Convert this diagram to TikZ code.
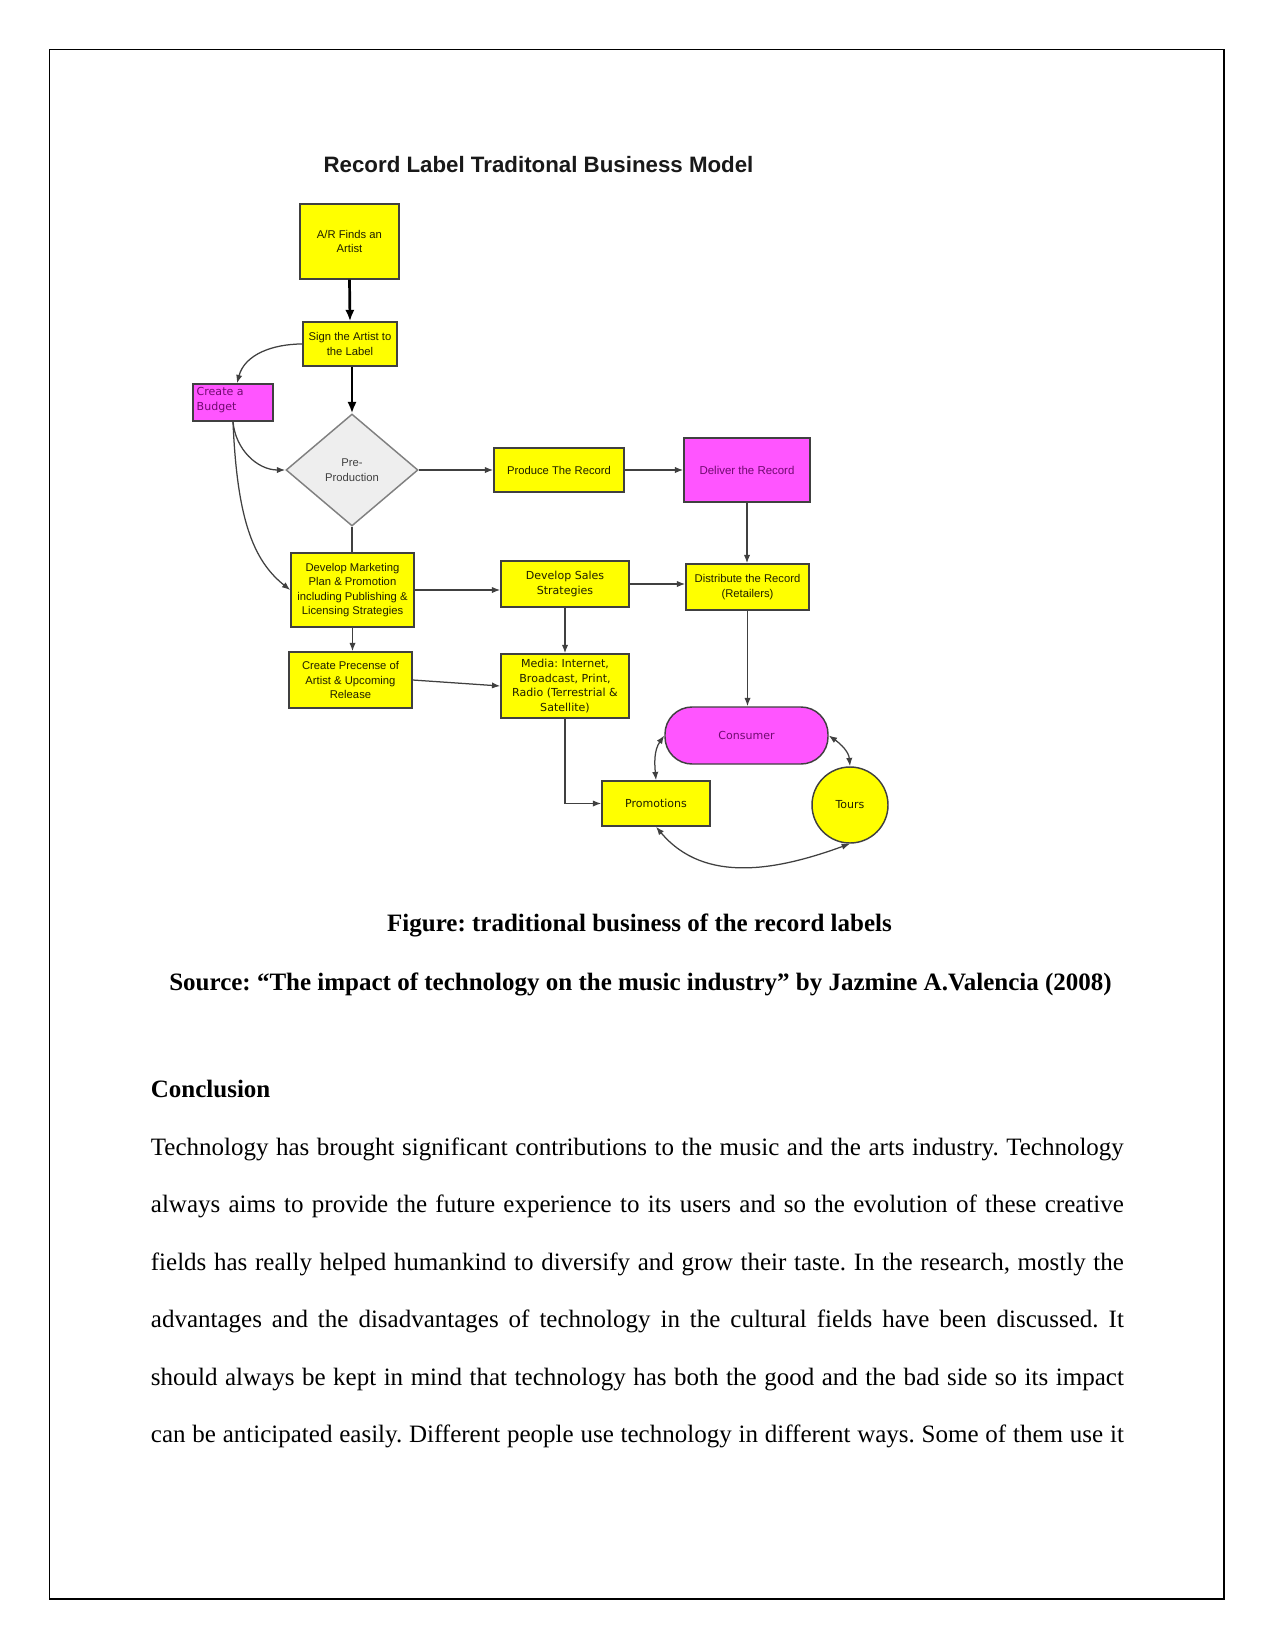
\documentclass[tikz,border=0pt]{standalone}
\usepackage{fontspec}
\setmainfont{Liberation Serif}
\newfontfamily\lsans{Liberation Sans}
\newfontfamily\dsans{DejaVu Sans}
\usetikzlibrary{shapes.geometric,arrows.meta,calc}
\definecolor{ybox}{HTML}{FFFF00}
\definecolor{mbox}{HTML}{FF55FF}
\definecolor{ytext}{HTML}{202000}
\definecolor{mtext}{HTML}{700A70}
\definecolor{edgec}{HTML}{404040}
\definecolor{diafill}{HTML}{EEEEEE}
\frenchspacing
\begin{document}
\frenchspacing
\begin{tikzpicture}[x=0.48pt,y=-0.48pt,
  sz/.style 2 args={minimum width={#1*0.48pt}, minimum height={#2*0.48pt}},
  base/.style={draw=edgec, line width=0.7pt, inner sep=0pt, align=center},
  ybx/.style={base, fill=ybox, text=ytext, font=\lsans\fontsize{5.4}{7}\selectfont},
  ywx/.style={base, fill=ybox, text=ytext, font=\dsans\fontsize{5.3}{7}\selectfont},
  mbx/.style={base, fill=mbox, text=mtext, font=\lsans\fontsize{5.5}{7}\selectfont},
  mwx/.style={base, fill=mbox, text=mtext, font=\dsans\fontsize{5.3}{7}\selectfont},
  conn/.style={draw=edgec, line width=0.6pt, -{Latex[length=4pt,width=3pt]}},
  dconn/.style={draw=edgec, line width=0.6pt, {Latex[length=4pt,width=3pt]}-{Latex[length=4pt,width=3pt]}},
  tconn/.style={draw=black, line width=1.3pt, -{Latex[length=5.5pt,width=4.5pt]}},
  capt/.style={anchor=base, inner sep=0pt, font=\fontsize{12}{14}\selectfont\bfseries},
  bodyt/.style={anchor=base west, inner sep=0pt, font=\fontsize{12}{14}\selectfont}
]
\useasboundingbox (0,0) rectangle (1275,1651);
\fill[white] (0,0) rectangle (1275,1651);
% page frame
\draw[line width=0.75pt] (49.5,49.5) rectangle (1224,1599);

% title
\node[anchor=base, inner sep=0pt, text=black!90, font=\lsans\bfseries\fontsize{10.7}{12}\selectfont] (title) at (538.5,173) {Record Label Traditonal Business Model};

% nodes
\node[ybx, sz={99}{75}] (ar) at (349.5,241.5) {A/R Finds an\\Artist};
\node[ybx, sz={94}{44}] (sign) at (350,344) {Sign the Artist to\\the Label};
\node[base, fill=mbox, sz={80}{37}] (budget) at (233,402.5) {};
\node[anchor=north west, inner sep=0pt, align=left, text=mtext, font=\dsans\fontsize{5.3}{7}\selectfont] (budgettext) at ($(budget.north west)+(4,4)$) {Create a\\Budget};
\node[base, diamond, draw=gray, fill=diafill, text=black!75, sz={132}{112}, font=\lsans\fontsize{5.4}{7}\selectfont] (pre) at (352,470) {Pre-\\Production};
\node[ybx, sz={130}{44}] (produce) at (559,470) {Produce The Record};
\node[mbx, sz={126}{64}] (deliver) at (747,470) {Deliver the Record};
\node[ybx, sz={123}{74}] (market) at (352.5,590) {Develop Marketing\\Plan \& Promotion\\including Publishing \&\\Licensing Strategies};
\node[ywx, sz={128}{46}] (sales) at (565,584) {Develop Sales\\Strategies};
\node[ybx, sz={123}{46}] (distrib) at (747.5,587) {Distribute the Record\\(Retailers)};
\node[ybx, sz={123}{56}] (presence) at (350.5,680) {Create Precense of\\Artist \& Upcoming\\Release};
\node[ywx, sz={128}{64}] (media) at (565,686) {Media: Internet,\\Broadcast, Print,\\Radio (Terrestrial \&\\Satellite)};
\node[mwx, sz={163}{57}, rounded corners=13pt] (consumer) at (746.5,735.5) {Consumer};
\node[ywx, sz={108}{45}] (promo) at (656,803.5) {Promotions};
\node[ywx, circle, minimum size={76*0.48pt}] (tours) at (850,805) {Tours};

% connectors
\draw[tconn] (ar.south) -- (sign.north);
\draw[tconn] (sign.south -| pre.north) -- (pre.north);
\draw[conn] (sign.west) to[out=180,in=75] ($(budget.north)+(4,0)$);
\draw[conn] (budget.south) to[out=-85,in=180] (pre.west);
\draw[conn] (budget.south) .. controls ($(budget.south)+(4,95)$) and ($(market.west)+(-38,-30)$) .. (market.west);
\draw[draw=edgec, line width=0.6pt] (pre.south) -- (pre.south |- market.north);
\draw[conn] (pre.east) -- (produce.west);
\draw[conn] (produce.east) -- (deliver.west);
\draw[conn] (deliver.south) -- (deliver.south |- distrib.north);
\draw[conn] (market.east) -- (market.east -| sales.west);
\draw[conn] (sales.east) -- (sales.east -| distrib.west);
\draw[conn] (market.south) -- (market.south |- presence.north);
\draw[conn] (sales.south) -- (media.north);
\draw[conn] (presence.east) -- (media.west);
\draw[conn] (distrib.south) -- (distrib.south |- consumer.north);
\draw[conn] (media.south) |- (promo.west);
\draw[dconn] (promo.north) to[out=95,in=235] (consumer.west);
\draw[dconn] (consumer.east) to[out=-35,in=95] (tours.north);
\draw[dconn] (promo.south) to[out=-50,in=200] (tours.south);

% caption
\node[capt] (cap1) at (639.5,931) {Figure: traditional business of the record labels};
\node[capt] (cap2) at (640.5,990) {Source: \textquotedblleft The impact of technology on the music industry\textquotedblright\ by Jazmine A.Valencia (2008)};

% conclusion
\node[bodyt, font=\fontsize{12}{14}\selectfont\bfseries] (concl) at (150.5,1097) {Conclusion};
\node[bodyt] (l1) at (150.5,1155) {\makebox[467pt][s]{Technology has brought significant contributions to the music and the arts industry. Technology}};
\node[bodyt] (l2) at (150.5,1212.5) {\makebox[467pt][s]{always aims to provide the future experience to its users and so the evolution of these creative}};
\node[bodyt] (l3) at (150.5,1270) {\makebox[467pt][s]{fields has really helped humankind to diversify and grow their taste. In the research, mostly the}};
\node[bodyt] (l4) at (150.5,1327.5) {\makebox[467pt][s]{advantages and the disadvantages of technology in the cultural fields have been discussed. It}};
\node[bodyt] (l5) at (150.5,1385) {\makebox[467pt][s]{should always be kept in mind that technology has both the good and the bad side so its impact}};
\node[bodyt] (l6) at (150.5,1442.5) {\makebox[467pt][s]{can be anticipated easily. Different people use technology in different ways. Some of them use it}};
\end{tikzpicture}
\end{document}
